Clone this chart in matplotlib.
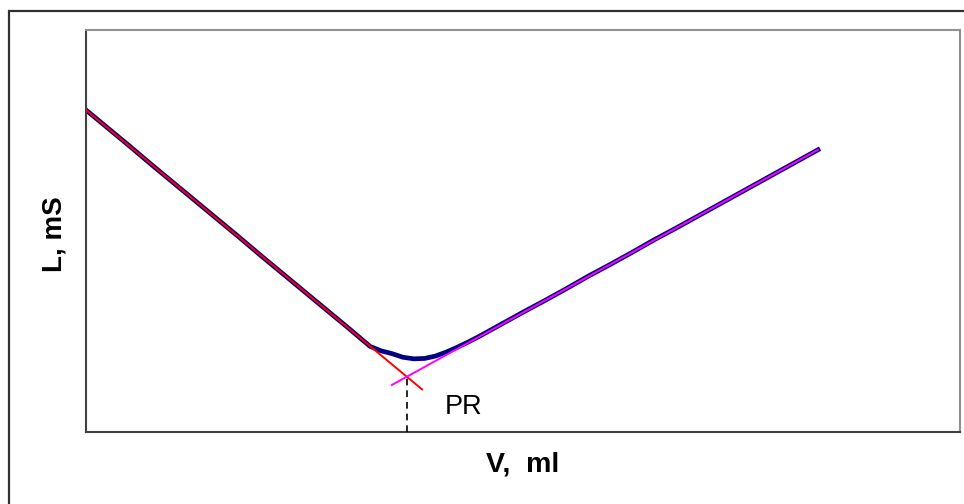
import numpy as np
import matplotlib.pyplot as plt
from matplotlib.patches import Rectangle

# titration data (volume, conductivity)
volume = [0, 0.5, 1, 1.5, 2, 2.5, 3, 3.5, 4, 4.5, 5, 5.5, 6, 6.5, 6.75, 7.0,
          7.25, 7.5, 7.75, 8.0, 8.25, 8.5, 8.75, 9.0, 9.5, 10, 10.5, 11, 11.5,
          12, 12.5, 13, 13.5, 14, 14.5, 15, 15.5, 16, 16.5, 16.75]
conduct = [8.01, 7.56, 7.11, 6.65, 6.20, 5.75, 5.30, 4.85, 4.39, 3.94, 3.49,
           3.04, 2.59, 2.13, 2.02, 1.95, 1.86, 1.82, 1.83, 1.89, 1.99, 2.11,
           2.24, 2.38, 2.68, 2.98, 3.27, 3.57, 3.88, 4.17, 4.47, 4.78, 5.07,
           5.37, 5.67, 5.97, 6.27, 6.57, 6.87, 7.02]

# tangent lines
red_v = [0, 7.69]
red_l = [8.01, 1.06]
mag_v = [7.0, 16.75]
mag_l = [1.17, 7.02]

# equivalence point
pr_v = 7.34
pr_l = 1.37

W, H = 964, 504
fig = plt.figure(figsize=(W / 100, H / 100), dpi=100)
ax = fig.add_axes([86 / W, 1 - 432 / H, 874 / W, 402 / H])

# outer frame
fig.patches.append(Rectangle((9 / W, -0.1), 1.2, 1 - 11 / H + 0.1,
                             transform=fig.transFigure, fill=False,
                             edgecolor='#303030', linewidth=1.6))

ax.plot(volume, conduct, color='#000080', linewidth=3.4, zorder=2)
ax.plot(red_v, red_l, color='red', linewidth=1.4, zorder=3)
ax.plot(mag_v, mag_l, color='#ff00ff', linewidth=1.4, zorder=3)
ax.plot([pr_v, pr_v], [0, pr_l], color='black', linestyle=(0, (4, 3)),
        linewidth=1.2, zorder=3)

ax.set_xlim(0, 20)
ax.set_ylim(0, 10)
ax.set_xticks([])
ax.set_yticks([])

ax.spines['left'].set_color('#404040')
ax.spines['bottom'].set_color('#404040')
ax.spines['top'].set_color('#909090')
ax.spines['right'].set_color('#909090')
for s in ax.spines.values():
    s.set_linewidth(1.5)

fig.text(445 / W, 1 - 414 / H, 'PR', fontsize=19.5, family='Liberation Sans',
         ha='left', va='baseline')
fig.text(523 / W, 1 - 472 / H, 'V,  ml', fontsize=20.5, fontweight='bold',
         family='Liberation Sans', ha='center', va='baseline')
fig.text(62 / W, 1 - 234 / H, 'L, mS', fontsize=20, fontweight='bold',
         family='Liberation Sans', ha='center', va='baseline', rotation=90,
         rotation_mode='anchor')

fig.savefig('out.png', dpi=100)
